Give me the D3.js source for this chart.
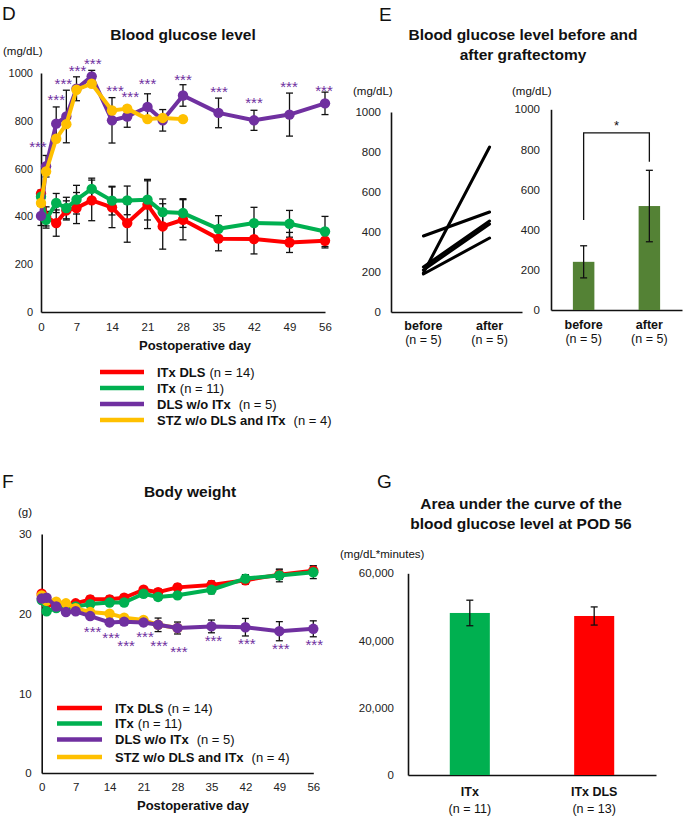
<!DOCTYPE html>
<html><head><meta charset="utf-8">
<script src="https://cdn.jsdelivr.net/npm/d3@7"></script>
<style>body{margin:0;background:#fff} svg{display:block} text{font-family:"Liberation Sans",Arial,sans-serif}</style>
</head><body><svg id="c" width="685" height="818"></svg>
<script>
// ---------- data ----------
const days = [0,1,3,5,7,10,14,17,21,24,28,35,42,49,56];
const dayTicks = [0,7,14,21,28,35,42,49,56];
const seriesNames = ["ITx DLS","ITx","DLS w/o ITx","STZ w/o DLS and ITx"];
const seriesN = ["(n = 14)","(n = 11)","(n = 5)","(n = 4)"];
const seriesColors = ["#FF0000","#00B050","#7030A0","#FFC000"];

// D: blood glucose (mg/dL)
const gluRed    = [495,400,372,425,435,467,438,372,449,358,386,307,305,291,298];
const gluRedErr = [15,40,55,40,65,85,85,80,100,95,84,51,62,42,30];
const gluGreen    = [482,386,456,435,470,515,466,467,470,418,414,348,372,369,337];
const gluGreenErr = [20,35,40,45,60,45,60,60,85,55,60,55,66,56,63];
const gluPurple    = [402,610,788,818,934,986,802,818,858,802,906,833,802,826,873];
const gluPurpleErr = [40,45,70,110,50,25,95,45,55,45,45,62,42,90,47];
const gluYellowDays = [0,1,3,5,7,10,14,17,21,24,28];
const gluYellow = [456,588,725,786,930,955,843,851,807,812,807];
const gluStarDays = [-0.6,3,4.4,7.2,10.2,14.6,17.6,21,28,35.1,42,48.9,55.8];
const gluStarVals = [703,898,968,1021,1049,937,912,968,982,933,885,954,937];
const gluTicks = [0,200,400,600,800,1000];

// E: before / after graftectomy
const grLabels = ["before","after"];
const grBefore = [380,195,225,210,190];
const grAfter  = [500,825,455,440,370];
const grMean = [240,518];
const grErr  = [80,178];
const grBracket = [448,883,739]; // left foot, top, right foot (mg/dL)

// F: body weight (g)
const bwRed    = [22.5,21.2,21.0,21.0,21.3,21.8,21.8,22.0,23.0,22.7,23.3,23.6,24.2,24.9,25.4];
const bwRedErr = [0.3,0.3,0.3,0.3,0.3,0.4,0.4,0.4,0.4,0.4,0.4,0.5,0.5,0.6,0.6];
const bwGreen    = [21.7,20.3,20.7,20.8,20.9,21.2,21.4,21.4,22.5,22.1,22.3,23.0,24.4,24.8,25.2];
const bwGreenErr = [0.3,0.3,0.3,0.3,0.3,0.3,0.3,0.3,0.4,0.4,0.4,0.5,0.5,0.8,0.8];
const bwYellowDays = [0,1,3,5,7,10,14,17,21,24,28];
const bwYellow = [22.3,21.6,21.5,21.3,20.7,20.2,20.0,19.5,19.2,18.6,18.2];
const bwPurple    = [21.9,22.0,20.9,20.2,20.3,19.7,18.9,19.0,18.9,18.6,18.2,18.4,18.3,17.8,18.1];
const bwPurpleErr = [0.3,0.3,0.3,0.3,0.3,0.3,0.4,0.4,0.4,0.85,0.75,0.8,1.1,1.2,1.0];
const bwStarDays = [10.5,14.3,17.4,21.3,24.2,28.3,35.4,42.3,49.3,56.2];
const bwStarVals = [18.1,17.3,16.3,17.4,16.3,15.6,16.9,16.6,15.9,16.4];
const bwTicks = [0,10,20,30];

// G: AUC
const aucLabels = ["ITx","ITx DLS"];
const aucN = ["(n = 11)","(n = 13)"];
const aucVals = [48200,47300];
const aucErr  = [3800,2700];
const aucColors = ["#00B050","#FF0000"];
const aucTicks = [0,20000,40000,60000];

// ---------- drawing ----------
const svg = d3.select("#c");
svg.append("rect").attr("width",685).attr("height",818).attr("fill","#fff");
const AX = "#222";
const plain = d3.format("d");

function styleAxis(g, fs){
  g.selectAll(".domain").attr("stroke","#111").attr("stroke-width",1.6);
  g.selectAll("text").attr("font-size",fs).attr("fill",AX).attr("font-family","Liberation Sans, Arial, sans-serif");
}
function txt(x,y,s,opt={}){
  const t = svg.append("text").attr("x",x).attr("y",y).text(s)
    .attr("font-size",opt.fs||12).attr("fill",opt.fill||"#111")
    .attr("text-anchor",opt.anchor||"start");
  if(opt.bold) t.attr("font-weight","bold");
  return t;
}
function errBars(g, xs, ys, errs, x, y, cap){
  xs.forEach((d,i)=>{
    const cx = x(d), v = ys[i], e = errs[i];
    g.append("line").attr("x1",cx).attr("x2",cx).attr("y1",y(v+e)).attr("y2",y(v-e)).attr("stroke","#111").attr("stroke-width",1.3);
    [v+e,v-e].forEach(w=>g.append("line").attr("x1",cx-cap).attr("x2",cx+cap).attr("y1",y(w)).attr("y2",y(w)).attr("stroke","#111").attr("stroke-width",1.3));
  });
}
function series(g, xs, ys, color, x, y, r){
  const line = d3.line().x((d,i)=>x(xs[i])).y(d=>y(d));
  g.append("path").datum(ys).attr("d",line).attr("fill","none").attr("stroke",color).attr("stroke-width",4).attr("stroke-linejoin","round");
  g.selectAll(null).data(ys).enter().append("circle").attr("cx",(d,i)=>x(xs[i])).attr("cy",d=>y(d)).attr("r",r).attr("fill",color);
}
function legend(x0,x1,tx,ys){
  seriesNames.forEach((n,i)=>{
    svg.append("line").attr("x1",x0).attr("x2",x1).attr("y1",ys[i]).attr("y2",ys[i]).attr("stroke",seriesColors[i]).attr("stroke-width",4.5);
    const t = svg.append("text").attr("x",tx).attr("y",ys[i]+4.5).attr("font-size",13).attr("fill","#111");
    t.append("tspan").attr("font-weight","bold").text(n);
    t.append("tspan").attr("dx", i>=2 ? 8 : 4).text(seriesN[i]);
  });
}

// ===== Panel D =====
txt(2,20,"D",{fs:19});
txt(183,40,"Blood glucose level",{fs:15.5,bold:true,anchor:"middle"});
txt(3,55,"(mg/dL)",{fs:11.5});
const xD = d3.scaleLinear().domain([0,56]).range([41,325]);
const yD = d3.scaleLinear().domain([0,1000]).range([312,73]);
styleAxis(svg.append("g").attr("transform","translate(41,0)").call(d3.axisLeft(yD).tickValues(gluTicks).tickFormat(plain).tickSize(0).tickSizeOuter(0).tickPadding(8)),11);
styleAxis(svg.append("g").attr("transform","translate(0,312)").call(d3.axisBottom(xD).tickValues(dayTicks).tickSize(0).tickSizeOuter(0).tickPadding(11)),11.5);
txt(195,350,"Postoperative day",{fs:13,bold:true,anchor:"middle"});
const gD = svg.append("g");
errBars(gD, days, gluRed, gluRedErr, xD, yD, 3.5);
errBars(gD, days, gluGreen, gluGreenErr, xD, yD, 3.5);
errBars(gD, days, gluPurple, gluPurpleErr, xD, yD, 3.5);
series(gD, days, gluRed, seriesColors[0], xD, yD, 5.2);
series(gD, days, gluGreen, seriesColors[1], xD, yD, 5.2);
series(gD, days, gluPurple, seriesColors[2], xD, yD, 5.2);
series(gD, gluYellowDays, gluYellow, seriesColors[3], xD, yD, 5.2);
gluStarDays.forEach((d,i)=>txt(xD(d), yD(gluStarVals[i])+8, "***",{fs:15,fill:"#7030A0",anchor:"middle"}));
legend(100,144,157,[372,388,404,420]);

// ===== Panel E =====
txt(379,21,"E",{fs:19});
txt(523,40,"Blood glucose level before and",{fs:15.5,bold:true,anchor:"middle"});
txt(523,60,"after graftectomy",{fs:15.5,bold:true,anchor:"middle"});
txt(353,95,"(mg/dL)",{fs:11.5});
txt(512,95,"(mg/dL)",{fs:11.5});
const yE1 = d3.scaleLinear().domain([0,1000]).range([312,112]);
const xE1 = d3.scalePoint().domain(grLabels).range([391,522]).padding(0.49);
styleAxis(svg.append("g").attr("transform","translate(391,0)").call(d3.axisLeft(yE1).tickValues(gluTicks).tickFormat(plain).tickSize(0).tickSizeOuter(0).tickPadding(10)),11.5);
styleAxis(svg.append("g").attr("transform","translate(0,312)").call(d3.axisBottom(xE1).tickSize(0).tickSizeOuter(0).tickFormat("")),11);
grBefore.forEach((b,i)=>{
  svg.append("line").attr("x1",xE1("before")).attr("x2",xE1("after")).attr("y1",yE1(b)).attr("y2",yE1(grAfter[i])).attr("stroke","#000").attr("stroke-width",3).attr("stroke-linecap","round");
});
grLabels.forEach(l=>{
  txt(xE1(l),330,l,{fs:12.5,bold:true,anchor:"middle"});
  txt(xE1(l),344,"(n = 5)",{fs:12.5,anchor:"middle"});
});
const yE2 = d3.scaleLinear().domain([0,1000]).range([310,109.3]);
const xE2 = d3.scaleBand().domain(grLabels).range([551,682]).paddingInner(0.673).paddingOuter(0.333);
styleAxis(svg.append("g").attr("transform","translate(551,0)").call(d3.axisLeft(yE2).tickValues(gluTicks).tickFormat(plain).tickSize(0).tickSizeOuter(0).tickPadding(11)),11.5);
styleAxis(svg.append("g").attr("transform","translate(0,310)").call(d3.axisBottom(xE2).tickSize(0).tickSizeOuter(0).tickFormat("")),11);
svg.append("g").selectAll("rect").data(grMean).enter().append("rect")
  .attr("x",(d,i)=>xE2(grLabels[i])).attr("width",xE2.bandwidth())
  .attr("y",d=>yE2(d)).attr("height",d=>yE2(0)-yE2(d)).attr("fill","#548235");
errBars(svg.append("g"), grLabels, grMean, grErr, l=>xE2(l)+xE2.bandwidth()/2, yE2, 3.5);
{
  const xl = xE2("before")+xE2.bandwidth()/2, xr = xE2("after")+xE2.bandwidth()/2;
  svg.append("path").attr("d",`M${xl},${yE2(grBracket[0])}V${yE2(grBracket[1])}H${xr}V${yE2(grBracket[2])}`)
    .attr("fill","none").attr("stroke","#111").attr("stroke-width",1.3);
  txt((xl+xr)/2, yE2(grBracket[1])-3, "*",{fs:13,anchor:"middle"});
}
grLabels.forEach(l=>{
  const cx = xE2(l)+xE2.bandwidth()/2;
  txt(cx,329,l,{fs:12.5,bold:true,anchor:"middle"});
  txt(cx,343,"(n = 5)",{fs:12.5,anchor:"middle"});
});

// ===== Panel F =====
txt(2,488,"F",{fs:19});
txt(190,497,"Body weight",{fs:15.5,bold:true,anchor:"middle"});
txt(18,516,"(g)",{fs:11.5});
const xF = d3.scaleLinear().domain([0,56]).range([41.7,313.3]);
const yF = d3.scaleLinear().domain([0,30]).range([773,534]);
styleAxis(svg.append("g").attr("transform","translate(41.7,0)").call(d3.axisLeft(yF).tickValues(bwTicks).tickFormat(plain).tickSize(0).tickSizeOuter(0).tickPadding(10)),11.5);
styleAxis(svg.append("g").attr("transform","translate(0,773)").call(d3.axisBottom(xF).tickValues(dayTicks).tickSize(0).tickSizeOuter(0).tickPadding(10)),11.5);
txt(193,810,"Postoperative day",{fs:13,bold:true,anchor:"middle"});
const gF = svg.append("g");
errBars(gF, days, bwRed, bwRedErr, xF, yF, 3.5);
errBars(gF, days, bwGreen, bwGreenErr, xF, yF, 3.5);
errBars(gF, days, bwPurple, bwPurpleErr, xF, yF, 3.5);
series(gF, days, bwRed, seriesColors[0], xF, yF, 5.2);
series(gF, days, bwGreen, seriesColors[1], xF, yF, 5.2);
series(gF, bwYellowDays, bwYellow, seriesColors[3], xF, yF, 5.2);
series(gF, days, bwPurple, seriesColors[2], xF, yF, 5.2);
bwStarDays.forEach((d,i)=>txt(xF(d), yF(bwStarVals[i])+8, "***",{fs:15,fill:"#7030A0",anchor:"middle"}));
legend(57,102,115,[708,723.5,739.5,757]);

// ===== Panel G =====
txt(377,488,"G",{fs:19});
txt(521,509,"Area under the curve of the",{fs:15.5,bold:true,anchor:"middle"});
txt(521,529,"blood glucose level at POD 56",{fs:15.5,bold:true,anchor:"middle"});
txt(340,558,"(mg/dL*minutes)",{fs:11.5});
const yG = d3.scaleLinear().domain([0,60000]).range([775,573.3]);
const xG = d3.scaleBand().domain(aucLabels).range([408,656]).paddingInner(0.678).paddingOuter(0.336);
styleAxis(svg.append("g").attr("transform","translate(408,0)").call(d3.axisLeft(yG).tickValues(aucTicks).tickSize(0).tickSizeOuter(0).tickPadding(14).tickFormat(d3.format(","))),11.5);
styleAxis(svg.append("g").attr("transform","translate(0,775)").call(d3.axisBottom(xG).tickSize(0).tickSizeOuter(0).tickFormat("")),11);
svg.append("g").selectAll("rect").data(aucVals).enter().append("rect")
  .attr("x",(d,i)=>xG(aucLabels[i])).attr("width",xG.bandwidth())
  .attr("y",d=>yG(d)).attr("height",d=>yG(0)-yG(d)).attr("fill",(d,i)=>aucColors[i]);
errBars(svg.append("g"), aucLabels, aucVals, aucErr, l=>xG(l)+xG.bandwidth()/2, yG, 3.5);
aucLabels.forEach((l,i)=>{
  const cx = xG(l)+xG.bandwidth()/2;
  txt(cx,796,l,{fs:12.5,bold:true,anchor:"middle"});
  txt(cx,813,aucN[i],{fs:12.5,anchor:"middle"});
});
</script></body></html>
